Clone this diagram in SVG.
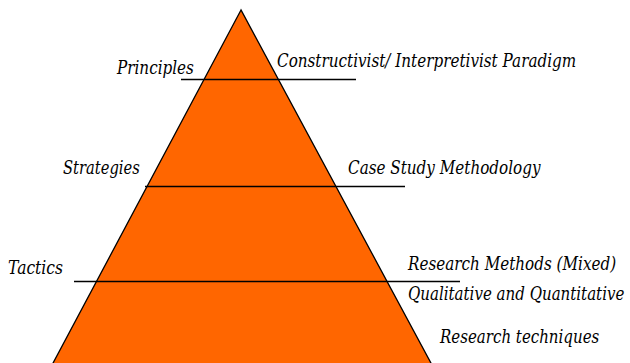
<svg xmlns="http://www.w3.org/2000/svg" width="630" height="363" viewBox="0 0 630 363">
<style>
text{font-family:"DejaVu Serif",serif;font-style:italic;font-size:16px;fill:#000}
.ln{stroke:#000;stroke-width:1.3;fill:none}
</style>
<rect width="630" height="363" fill="#fff"/>
<g id="pyramid">
<polygon points="241,10 52,365 432,365" fill="#FF6600" stroke="#000" stroke-width="1.3"/>
</g>
<g id="connectors">
<line class="ln" x1="181" y1="79.5" x2="356" y2="79.5"/>
<line class="ln" x1="145" y1="186.5" x2="405" y2="186.5"/>
<line class="ln" x1="74" y1="281.5" x2="460" y2="281.5"/>
</g>
<g id="principles"><text transform="translate(117,74) scale(0.95,1.1)">Principles</text></g>
<g id="paradigm"><text transform="translate(277,67) scale(0.95,1.1)">Constructivist/ Interpretivist Paradigm</text></g>
<g id="strategies"><text transform="translate(63,174) scale(0.92,1.1)">Strategies</text></g>
<g id="methodology"><text transform="translate(348,174) scale(0.95,1.1)">Case Study Methodology</text></g>
<g id="tactics"><text transform="translate(8,274) scale(0.97,1.1)">Tactics</text></g>
<g id="methods"><text transform="translate(408,270) scale(0.95,1.1)">Research Methods (Mixed)</text><text transform="translate(408,300) scale(0.94,1.1)">Qualitative and Quantitative</text></g>
<g id="techniques"><text transform="translate(440,343) scale(0.94,1.1)">Research techniques</text></g>
</svg>
